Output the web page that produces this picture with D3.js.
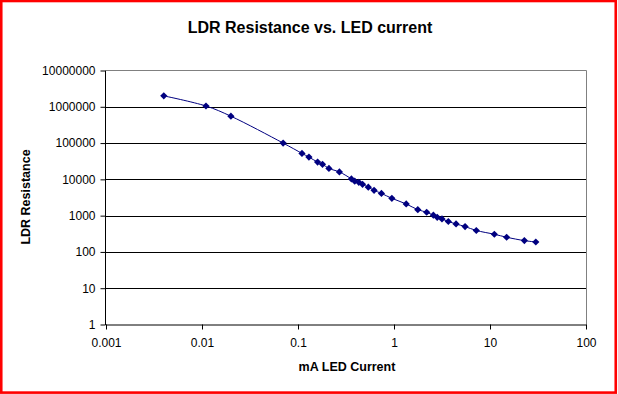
<!DOCTYPE html>
<html>
<head>
<meta charset="utf-8">
<script src="https://cdn.jsdelivr.net/npm/d3@7"></script>
<style>
  html, body { margin: 0; padding: 0; background: #fff; }
  svg { display: block; }
  text { font-family: "Liberation Sans", Arial, sans-serif; fill: #000; }
</style>
</head>
<body>
<svg id="chart" width="618" height="394"></svg>
<script>
// Data
const currentMA = [0.004, 0.011, 0.02, 0.07, 0.11, 0.13, 0.16, 0.18, 0.21, 0.27, 0.36, 0.39, 0.43, 0.47, 0.54, 0.62, 0.74, 0.95, 1.34, 1.77, 2.19, 2.57, 2.82, 3.16, 3.68, 4.43, 5.5, 7.2, 11.1, 14.9, 22.8, 30];
const resistance = [2000000, 1050000, 550000, 100000, 52000, 41000, 30000, 26000, 20000, 16000, 10300, 8900, 8300, 7300, 6100, 5000, 4100, 3000, 2100, 1460, 1240, 1030, 900, 810, 690, 590, 500, 390, 307, 254, 205, 188];
const xTicks = [0.001, 0.01, 0.1, 1, 10, 100];
const xTickLabels = ["0.001", "0.01", "0.1", "1", "10", "100"];
const yTicks = [1, 10, 100, 1000, 10000, 100000, 1000000, 10000000];
const yTickLabels = ["1", "10", "100", "1000", "10000", "100000", "1000000", "10000000"];
const title = "LDR Resistance vs. LED current";
const xTitle = "mA LED Current";
const yTitle = "LDR Resistance";

const svg = d3.select("#chart");
const W = 618, H = 394;
const plot = { left: 106, right: 586, top: 70.5, bottom: 324.5 };

// Background + red frame
svg.append("rect").attr("x", 0).attr("y", 0).attr("width", W).attr("height", H).attr("fill", "#fff");
svg.append("rect").attr("x", 1.25).attr("y", 1).attr("width", 614.5).attr("height", 391.6)
  .attr("fill", "none").attr("stroke", "#ff0000").attr("stroke-width", 2.6);

const x = d3.scaleLog().domain([0.001, 100]).range([plot.left, plot.right]);
const y = d3.scaleLog().domain([1, 10000000]).range([plot.bottom, plot.top]);

// Gridlines
svg.append("g").selectAll("line").data(yTicks.filter(v => v > 1 && v < 10000000)).join("line")
  .attr("x1", plot.left).attr("x2", plot.right)
  .attr("y1", d => Math.round(y(d)) + 0.5).attr("y2", d => Math.round(y(d)) + 0.5)
  .attr("stroke", "#000").attr("stroke-width", 1);

// Plot border (top/right gray)
svg.append("path")
  .attr("d", `M${plot.left},${plot.top}H${plot.right + 0.5}V${plot.bottom}`)
  .attr("fill", "none").attr("stroke", "#808080").attr("stroke-width", 1);

// Axes
const xAxis = d3.axisBottom(x).tickValues(xTicks).tickFormat((d, i) => xTickLabels[i]).tickSize(5).tickPadding(9);
const gx = svg.append("g").attr("transform", `translate(0,${plot.bottom})`).call(xAxis);
gx.select(".domain").attr("d", `M${plot.left},0.5H${plot.right + 0.5}`).attr("stroke", "#000");
gx.selectAll(".tick line").attr("stroke", "#000");
gx.selectAll(".tick text").attr("font-size", 12).attr("font-family", "Liberation Sans, Arial, sans-serif").attr("fill", "#000");

const yAxis = d3.axisLeft(y).tickValues(yTicks).tickFormat((d, i) => yTickLabels[i]).tickSize(5).tickPadding(5);
const gy = svg.append("g").attr("transform", `translate(${plot.left - 0.5},0)`).call(yAxis);
gy.select(".domain").attr("d", `M0,${plot.top}V${plot.bottom + 0.5}`).attr("stroke", "#000");
gy.selectAll(".tick line").attr("stroke", "#000");
gy.selectAll(".tick text").attr("font-size", 12).attr("font-family", "Liberation Sans, Arial, sans-serif").attr("fill", "#000");

// Data
const data = currentMA.map((c, i) => ({ c, r: resistance[i] }));
const line = d3.line().x(d => x(d.c)).y(d => y(d.r)).curve(d3.curveCatmullRom.alpha(0.5));
svg.append("path").datum(data).attr("d", line)
  .attr("fill", "none").attr("stroke", "#000080").attr("stroke-width", 1);

svg.append("g").selectAll("path").data(data).join("path")
  .attr("transform", d => `translate(${x(d.c)},${y(d.r)})`)
  .attr("d", "M0,-3.6L3.6,0L0,3.6L-3.6,0Z")
  .attr("fill", "#000080");

// Titles
svg.append("text").attr("x", 310).attr("y", 33).attr("text-anchor", "middle")
  .attr("font-size", 16).attr("font-weight", "bold").text(title);
svg.append("text").attr("x", 347).attr("y", 371).attr("text-anchor", "middle")
  .attr("font-size", 12.5).attr("font-weight", "bold").text(xTitle);
svg.append("text").attr("transform", "translate(30,197) rotate(-90)").attr("text-anchor", "middle")
  .attr("font-size", 12.5).attr("font-weight", "bold").text(yTitle);
</script>
</body>
</html>
